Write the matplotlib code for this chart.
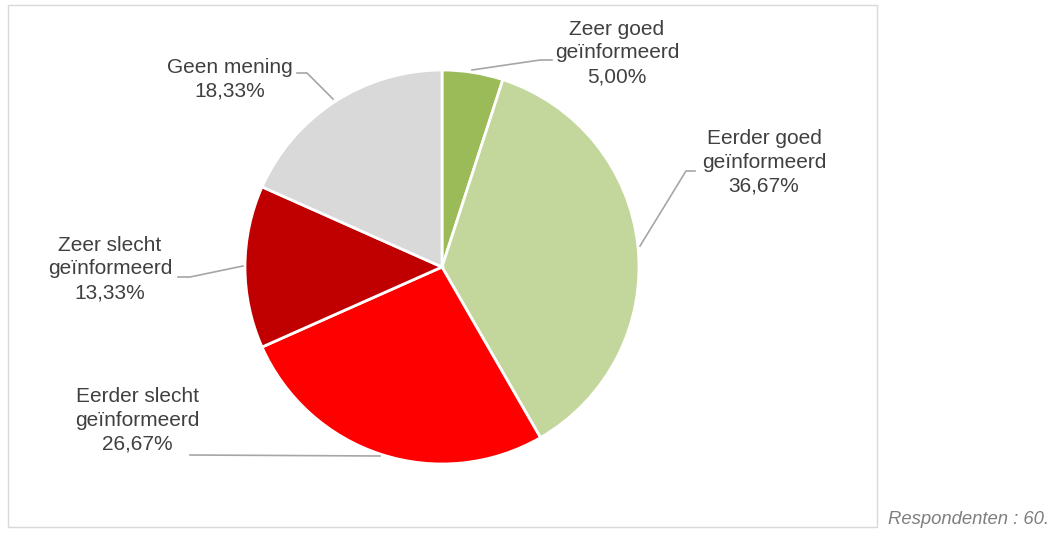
import matplotlib.pyplot as plt
from matplotlib.patches import Rectangle

labels = ["Zeer goed\ngeïnformeerd", "Eerder goed\ngeïnformeerd",
          "Eerder slecht\ngeïnformeerd", "Zeer slecht\ngeïnformeerd",
          "Geen mening"]
values = [5.00, 36.67, 26.67, 13.33, 18.33]
colours = ["#9BBB59", "#C3D69B", "#FF0000", "#C00000", "#D9D9D9"]
footnote = "Respondenten : 60."

W, H = 1051, 534


def px(x, y):
    # pixel coords (top-left origin) -> data coords
    return x, H - y


# label centres and leader lines, in pixels
label_pos = [(617, 53), (764, 162), (137, 420), (110, 269), (230, 79)]
leaders = [
    [(472, 70), (540, 60), (552, 60)],
    [(640, 246), (686, 171), (695, 171)],
    [(380, 456), (190, 455)],
    [(243, 266), (190, 277), (178, 277)],
    [(333, 99), (307, 73), (297, 73)],
]

plt.rcParams["font.family"] = ["Liberation Sans", "DejaVu Sans"]

fig = plt.figure(figsize=(W / 100, H / 100), dpi=100)
ax = fig.add_axes([0, 0, 1, 1])

ax.add_patch(Rectangle(px(8, 527), 869, 522, fill=False,
                       edgecolor="#D9D9D9", linewidth=1))

ax.pie(values, colors=colours, startangle=90, counterclock=False,
       center=px(442, 267), radius=197,
       wedgeprops=dict(edgecolor="white", linewidth=2))

for lab, val, (x, y), pts in zip(labels, values, label_pos, leaders):
    txt = lab + "\n" + f"{val:.2f}%".replace(".", ",")
    ax.text(*px(x, y), txt, ha="center", va="center", fontsize=15,
            color="#404040", linespacing=1.32)
    xs = [p[0] for p in pts]
    ys = [H - p[1] for p in pts]
    ax.plot(xs, ys, color="#A6A6A6", linewidth=1.2)

ax.text(*px(888, 520), footnote, ha="left", va="center", fontsize=13.3,
        style="italic", color="#7F7F7F")

ax.set_xlim(0, W)
ax.set_ylim(0, H)
ax.set_aspect("equal")
ax.axis("off")

fig.savefig("out.png", dpi=100)
